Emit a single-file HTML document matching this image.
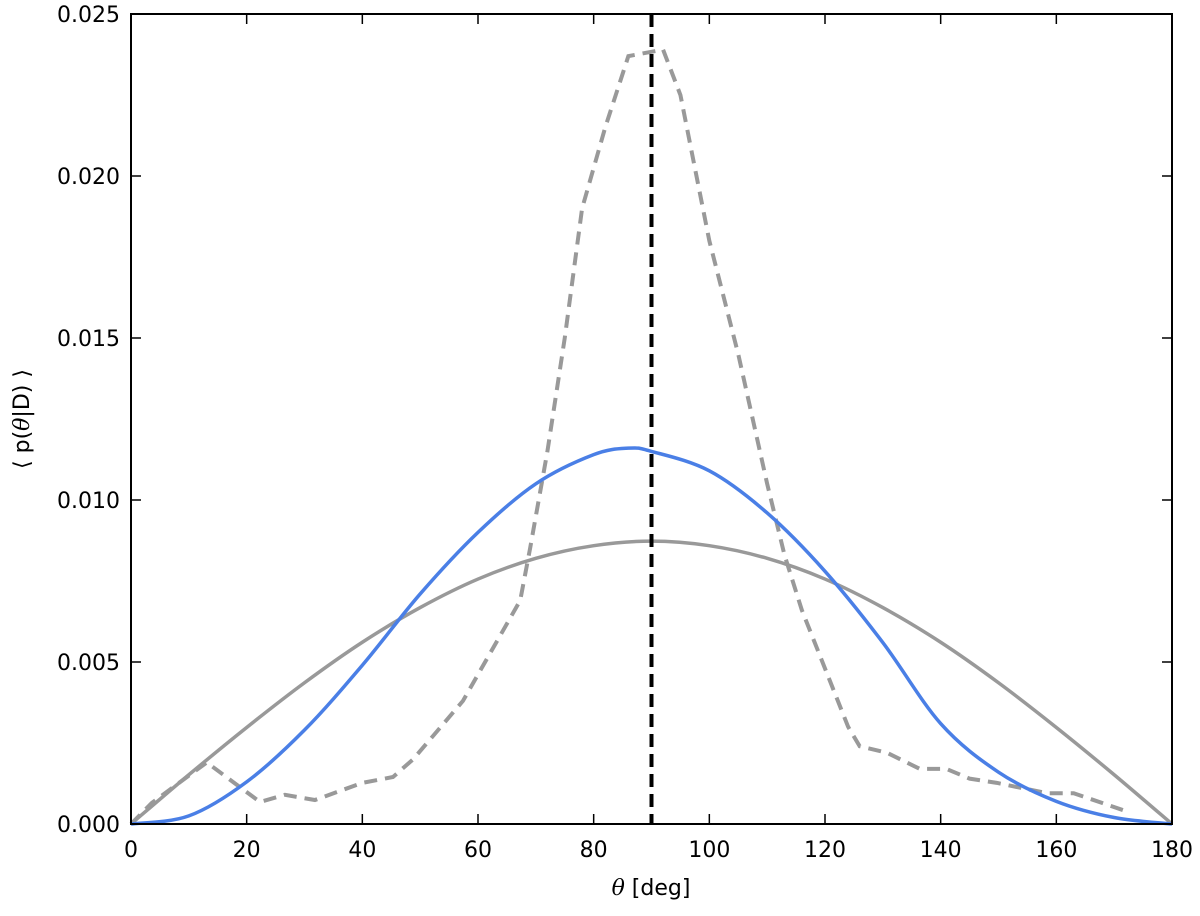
<!DOCTYPE html>
<html><head><meta charset="utf-8"><style>
html,body{margin:0;padding:0;background:#fff;}
svg text{font-family:"DejaVu Sans","Liberation Sans",sans-serif;fill:#000;}
</style></head><body>
<svg id="chart" width="1200" height="911" viewBox="0 0 1200 911">
<g id="marks"></g>
<g id="axes"></g>
</svg>
<script>
const xTicks = [0,20,40,60,80,100,120,140,160,180];
const yTicks = [0.000,0.005,0.010,0.015,0.020,0.025];
const yTickLabels = ["0.000","0.005","0.010","0.015","0.020","0.025"];
const uniformTheta = [0,10,20,30,40,50,60,70,80,90,100,110,120,130,140,150,160,170,180];
const uniformVals = [0,0.00152,0.00298,0.00436,0.00561,0.00668,0.00756,0.00820,0.00859,0.00873,0.00859,0.00820,0.00756,0.00668,0.00561,0.00436,0.00298,0.00152,0];
const posteriorTheta = [0,10,20,30,40,50,60,70,80,86,90,100,110,120,130,140,150,160,170,180];
const posteriorVals = [0,0.00025,0.0013,0.0029,0.0049,0.0071,0.0090,0.0105,0.0114,0.0116,0.0115,0.0109,0.0096,0.0078,0.0056,0.0031,0.0016,0.0007,0.0002,0];
const sampleTheta = [0,3.6,13.1,22.3,26.6,31.8,40,45.3,48.8,57.4,67.3,69,72,75,78,82,86,92,95,100,105,110,113,116,120,124,126,130.7,136.4,141,145,149.7,158.4,163,171.5];
const sampleVals = [0,0.00065,0.0019,0.00068,0.0009,0.00074,0.00127,0.00145,0.002,0.0038,0.0069,0.0085,0.0115,0.015,0.019,0.0215,0.0237,0.0239,0.0225,0.018,0.0145,0.0105,0.0083,0.0066,0.0048,0.003,0.0024,0.0022,0.0017,0.0017,0.0014,0.00127,0.00095,0.00095,0.00043];
const trueTheta = 90;

const X0=131,X1=1172,Y0=824,Y1=14;
const xs = t => X0 + (t/180)*(X1-X0);
const ys = v => Y0 - (v/0.025)*(Y0-Y1);
const NS="http://www.w3.org/2000/svg";
const marks=document.getElementById('marks'), axes=document.getElementById('axes');
function mk(tag,attrs,parent){const e=document.createElementNS(NS,tag);for(const k in attrs)e.setAttribute(k,attrs[k]);parent.appendChild(e);return e;}
function smoothPath(tx,vy){const p=tx.map((t,i)=>[xs(t),ys(vy[i])]);let d=`M${p[0][0]},${p[0][1]}`;
 for(let i=0;i<p.length-1;i++){const a=p[Math.max(0,i-1)],b=p[i],c=p[i+1],e=p[Math.min(p.length-1,i+2)];
 const c1=[b[0]+(c[0]-a[0])/6,b[1]+(c[1]-a[1])/6],c2=[c[0]-(e[0]-b[0])/6,c[1]-(e[1]-b[1])/6];
 d+=` C${c1[0]},${c1[1]} ${c2[0]},${c2[1]} ${c[0]},${c[1]}`;}return d;}
function linePath(tx,vy){return tx.map((t,i)=>(i?'L':'M')+xs(t)+','+ys(vy[i])).join(' ');}

let e;
e=mk('path',{d:smoothPath(uniformTheta,uniformVals),fill:'none',stroke:'#999999','stroke-width':3.5},marks);


e=mk('path',{d:linePath(sampleTheta,sampleVals),fill:'none',stroke:'#999999','stroke-width':4,'stroke-dasharray':'13 8'},marks);


e=mk('path',{d:smoothPath(posteriorTheta,posteriorVals),fill:'none',stroke:'#4a7fe6','stroke-width':3.5},marks);


e=mk('line',{x1:xs(trueTheta),x2:xs(trueTheta),y1:Y1,y2:Y0,stroke:'#000','stroke-width':4,'stroke-dasharray':'13 7'},marks);



e=mk('rect',{x:X0,y:Y1,width:X1-X0,height:Y0-Y1,fill:'none',stroke:'#000','stroke-width':2},axes);


xTicks.forEach(t=>{const x=xs(t);
 mk('line',{x1:x,x2:x,y1:Y0,y2:Y0-10,stroke:'#000','stroke-width':1.5},axes);
 mk('line',{x1:x,x2:x,y1:Y1,y2:Y1+10,stroke:'#000','stroke-width':1.5},axes);
 const tx=mk('text',{x:x,y:857,'text-anchor':'middle','font-size':22},axes);tx.textContent=t;
 
 
});
yTicks.forEach((v,i)=>{const y=ys(v);
 mk('line',{x1:X0,x2:X0+10,y1:y,y2:y,stroke:'#000','stroke-width':1.5},axes);
 mk('line',{x1:X1,x2:X1-10,y1:y,y2:y,stroke:'#000','stroke-width':1.5},axes);
 const tx=mk('text',{x:120,y:y+8,'text-anchor':'end','font-size':22},axes);tx.textContent=yTickLabels[i];
 
 
});
e=mk('text',{x:651,y:895,'text-anchor':'middle','font-size':22},axes);
e.innerHTML='<tspan font-style="italic" font-family="DejaVu Serif, Liberation Serif, serif">θ</tspan> [deg]';


e=mk('text',{x:0,y:0,'text-anchor':'middle','font-size':22,transform:'translate(29,419) rotate(-90)'},axes);
e.innerHTML='⟨ p(<tspan font-style="italic" font-family="DejaVu Serif, Liberation Serif, serif">θ</tspan>|D) ⟩';


</script>
</body></html>
